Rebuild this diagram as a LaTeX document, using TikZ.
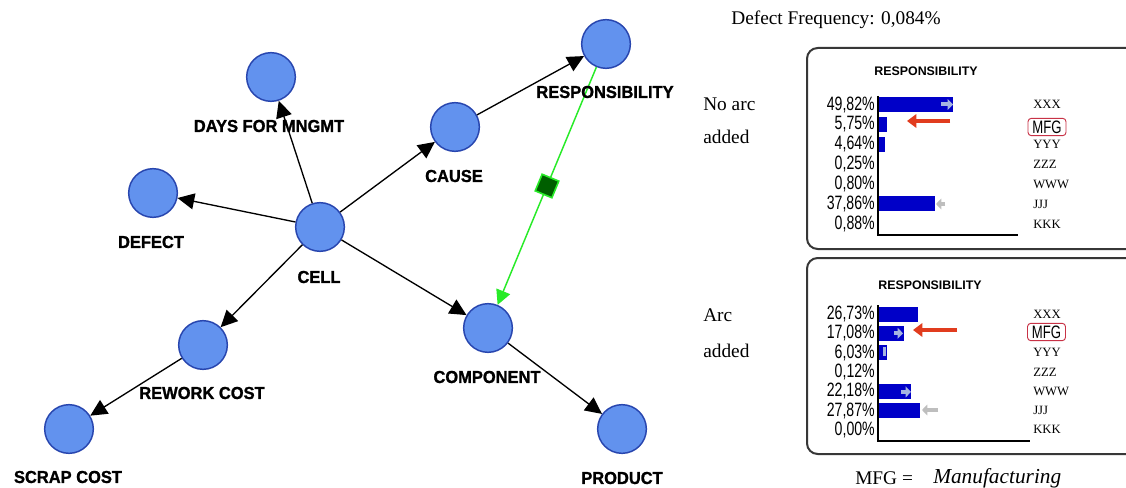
\documentclass[tikz,border=0pt]{standalone}
\usepackage{fontspec}
\setmainfont{Liberation Serif}
\newfontfamily\lsans{Liberation Sans}
\newfontfamily\chartfont[FakeStretch=0.73]{Liberation Sans}
\newfontfamily\labfont[FakeStretch=0.95,FakeBold=1.2]{Liberation Sans}
\usetikzlibrary{arrows.meta}
\definecolor{nodefill}{RGB}{98,146,238}
\definecolor{nodedraw}{RGB}{40,70,175}
\definecolor{arcgreen}{RGB}{40,235,40}
\definecolor{sqgreen}{RGB}{0,95,0}
\definecolor{barblue}{RGB}{0,0,200}
\definecolor{redarrow}{RGB}{225,60,30}
\definecolor{boxline}{RGB}{55,55,55}
\definecolor{mfgred}{RGB}{200,50,70}
\definecolor{inbar}{RGB}{165,180,225}
\definecolor{outbar}{RGB}{190,190,190}
\begin{document}
\begin{tikzpicture}[x=0.75pt,y=-0.75pt,
  bn/.style={circle, fill=nodefill, draw=nodedraw, line width=1.1pt, minimum size=36.5pt, inner sep=0pt},
  lab/.style={font=\labfont\bfseries\fontsize{13}{13}\selectfont, inner sep=0pt},
  edge/.style={line width=1pt, -{Triangle[length=12.5pt,width=12pt]}},
  garc/.style={line width=1.1pt, arcgreen, -{Triangle[length=11pt,width=11pt]}},
  sqnode/.style={rectangle, fill=sqgreen, draw=arcgreen, line width=1.2pt, minimum size=13.5pt, inner sep=0pt, sloped},
  serif/.style={font=\fontsize{14.5}{14.5}\selectfont, inner sep=0pt},
  chartbox/.style={draw=boxline, line width=1.5pt, rounded corners=8pt},
  pct/.style={font=\chartfont\fontsize{14.5}{14.5}\selectfont, inner sep=0pt, anchor=east},
  cat/.style={font=\fontsize{9.5}{9.5}\selectfont, inner sep=0pt, anchor=west},
  mfgbox/.style={draw=mfgred, line width=0.7pt, rounded corners=2.5pt, font=\chartfont\fontsize{13.5}{13.5}\selectfont, minimum width=28.5pt, minimum height=13pt, inner sep=0pt},
  ctitle/.style={font=\lsans\bfseries\fontsize{9.3}{9.3}\selectfont, inner sep=0pt},
  redarr/.style={redarrow, line width=3pt, -{Triangle[length=7pt,width=10pt]}},
  axis/.style={line width=0.9pt, black},
  inarr/.style={inbar, line width=3pt, -{Triangle[length=4pt,width=8pt]}},
  outarr/.style={outbar, line width=3pt, -{Triangle[length=4pt,width=8pt]}}
]
\useasboundingbox (0,0) rectangle (1126,488);
\fill[white] (0,0) rectangle (1126,488);

% ---------- graph ----------
\node[bn] (days) at (271,77) {};
\node[bn] (defect) at (153,193) {};
\node[bn] (cell) at (320,227) {};
\node[bn] (cause) at (455,127) {};
\node[bn] (resp) at (606,44) {};
\node[bn] (comp) at (488,328) {};
\node[bn] (rework) at (203,345) {};
\node[bn] (scrap) at (69,429) {};
\node[bn] (product) at (622,429) {};

\draw[edge] (cell) -- (days);
\draw[edge] (cell) -- (defect);
\draw[edge] (cell) -- (cause);
\draw[edge] (cell) -- (comp);
\draw[edge] (cell) -- (rework);
\draw[edge] (cause) -- (resp);
\draw[edge] (rework) -- (scrap);
\draw[edge] (comp) -- (product);
\draw[garc] (resp) -- node[sqnode] (sq) {} (comp);

\node[lab] (ldays) at (269,126) {DAYS FOR MNGMT};
\node[lab] (ldefect) at (151,242) {DEFECT};
\node[lab] (lcell) at (319,277) {CELL};
\node[lab] (lcause) at (454,176) {CAUSE};
\node[lab] (lresp) at (605,92) {RESPONSIBILITY};
\node[lab] (lcomp) at (487,377) {COMPONENT};
\node[lab] (lrework) at (202,393) {REWORK COST};
\node[lab] (lscrap) at (68,477) {SCRAP COST};
\node[lab] (lproduct) at (622,478) {PRODUCT};

% ---------- right panel texts ----------
\node[serif] (freq) at (836,20) {Defect Frequency: 0,084\%};
\node[serif, anchor=west] (noarc1) at (703,104) {No arc};
\node[serif, anchor=west] (noarc2) at (703,137) {added};
\node[serif, anchor=west] (arc1) at (703,315) {Arc};
\node[serif, anchor=west] (arc2) at (703,351) {added};
\node[serif, anchor=west] (mfgeq) at (855,478) {MFG =};
\node[serif, anchor=west, font=\fontsize{16}{16}\selectfont] (mfgname) at (933,478) {\itshape Manufacturing};

% ---------- chart 1 ----------
\draw[chartbox] (807,48) rectangle (1150,249);
\node[ctitle] (t1) at (926,71) {RESPONSIBILITY};
\foreach \v/\t/\c [count=\i from 0] in {49.82/{49,82\%}/XXX, 5.75/{5,75\%}/{}, 4.64/{4,64\%}/YYY, 0.25/{0,25\%}/ZZZ, 0.80/{0,80\%}/WWW, 37.86/{37,86\%}/JJJ, 0.88/{0,88\%}/KKK}{
  \pgfmathsetmacro\yy{104.5+19.9*\i}
  \fill[barblue] (878,\yy-7.5) rectangle ({878+1.5*\v},\yy+7.5);
  \node[pct] (pa\i) at (875,\yy) {\t};
  \node[cat] (ca\i) at (1033,\yy) {\c};
}
\node[mfgbox] (mfga) at (1047,127) {MFG};
\draw[axis] (878,96) -- (878,235) -- (1018,235);
\draw[inarr] (941,104.5) -- (953,104.5);
\draw[outarr] (945,204) -- (936,204);
\draw[redarr] (950,121) -- (907,121);

% ---------- chart 2 ----------
\draw[chartbox] (807,258) rectangle (1150,454);
\node[ctitle] (t2) at (930,285) {RESPONSIBILITY};
\foreach \v/\t/\c [count=\i from 0] in {26.73/{26,73\%}/XXX, 17.08/{17,08\%}/{}, 6.03/{6,03\%}/YYY, 0.12/{0,12\%}/ZZZ, 22.18/{22,18\%}/WWW, 27.87/{27,87\%}/JJJ, 0/{0,00\%}/KKK}{
  \pgfmathsetmacro\yy{314+19.3*\i}
  \fill[barblue] (878,\yy-7.5) rectangle ({878+1.5*\v},\yy+7.5);
  \node[pct] (pb\i) at (875,\yy) {\t};
  \node[cat] (cb\i) at (1033,\yy) {\c};
}
\node[mfgbox] (mfgb) at (1046.5,332) {MFG};
\draw[axis] (878,305) -- (878,441) -- (1030,441);
\draw[inarr] (894,333.3) -- (903,333.3);
\fill[inbar] (883,347) rectangle (886,356);
\draw[inarr] (901,391.9) -- (911,391.9);
\draw[outarr] (938,410) -- (922,410);
\draw[redarr] (957,330) -- (913,330);
\end{tikzpicture}
\end{document}
